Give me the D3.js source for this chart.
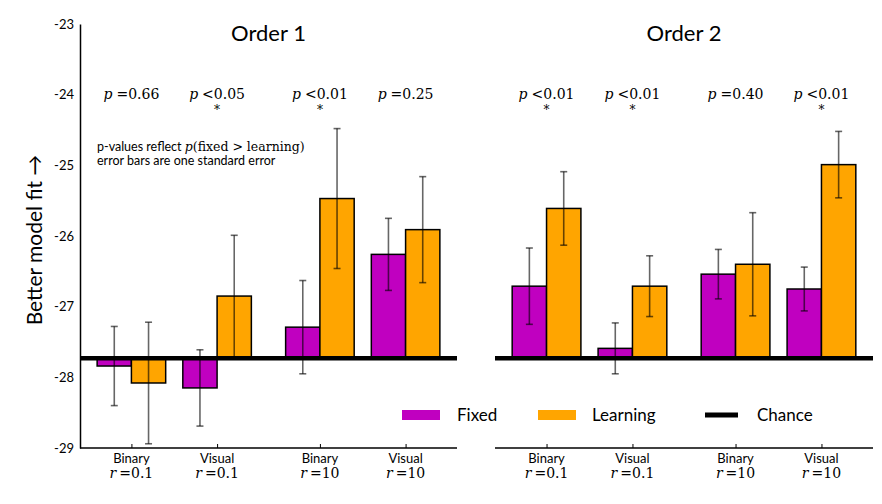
<!DOCTYPE html>
<html>
<head>
<meta charset="utf-8">
<script src="https://cdn.jsdelivr.net/npm/d3@7"></script>
<style>
  body { margin: 0; background: #fff; }
  svg text { fill: #000; }
</style>
</head>
<body>
<div id="chart"></div>
<script>
// data
const conditions = ['Binary', 'Visual', 'Binary', 'Visual']
const rewards = ['0.1', '0.1', '10', '10']
const panelTitles = ['Order 1', 'Order 2']
const chance = -27.73

const fixedOrder1 = [-27.84, -28.15, -27.29, -26.26]
const fixedOrder1Se = [0.56, 0.54, 0.66, 0.51]
const learningOrder1 = [-28.08, -26.85, -25.47, -25.91]
const learningOrder1Se = [0.86, 0.86, 0.99, 0.75]

const fixedOrder2 = [-26.71, -27.59, -26.54, -26.75]
const fixedOrder2Se = [0.54, 0.36, 0.35, 0.31]
const learningOrder2 = [-25.61, -26.71, -26.40, -24.99]
const learningOrder2Se = [0.52, 0.43, 0.73, 0.47]

const pOrder1 = ['=0.66', '<0.05', '<0.01', '=0.25']
const starOrder1 = [false, true, true, false]
const pOrder2 = ['<0.01', '<0.01', '=0.40', '<0.01']
const starOrder2 = [true, true, false, true]

const yTicks = [-23, -24, -25, -26, -27, -28, -29]

const panels = [
  { title: panelTitles[0], fixed: fixedOrder1, fixedSe: fixedOrder1Se, learning: learningOrder1, learningSe: learningOrder1Se, p: pOrder1, star: starOrder1 },
  { title: panelTitles[1], fixed: fixedOrder2, fixedSe: fixedOrder2Se, learning: learningOrder2, learningSe: learningOrder2Se, p: pOrder2, star: starOrder2 }
]

// layout
const W = 882, H = 504
const groupPos = [0, 1, 2.2, 3.2]
const barW = 0.4
const colors = { fixed: '#c000c0', learning: '#ffa500' }
const sans = 'Lato, "Open Sans", sans-serif'
const serif = '"DejaVu Serif", "Liberation Serif", serif'

let svg = d3.select('#chart').append('svg')
  .attr('width', W)
  .attr('height', H)

let y = d3.scaleLinear().domain([-29, -23]).range([448, 24])

let panelX = [[80, 457], [495, 873]]

panels.forEach((p, i) => {
  let x = d3.scaleLinear().domain([-0.6, 3.8]).range(panelX[i])
  let g = svg.append('g')
  let unit = x(1) - x(0)

  // bars
  let rows = []
  groupPos.forEach((pos, k) => {
    rows.push({ key: 'fixed', x0: pos - barW, v: p.fixed[k], se: p.fixedSe[k] })
    rows.push({ key: 'learning', x0: pos, v: p.learning[k], se: p.learningSe[k] })
  })

  g.selectAll('rect.bar')
    .data(rows)
    .join('rect')
    .attr('class', 'bar')
    .attr('x', d => x(d.x0))
    .attr('width', barW * unit)
    .attr('y', d => Math.min(y(d.v), y(chance)))
    .attr('height', d => Math.abs(y(d.v) - y(chance)))
    .attr('fill', d => colors[d.key])
    .attr('stroke', '#000')
    .attr('stroke-width', 1.5)

  // chance line
  g.append('line')
    .attr('x1', panelX[i][0]).attr('x2', panelX[i][1])
    .attr('y1', y(chance)).attr('y2', y(chance))
    .attr('stroke', '#000')
    .attr('stroke-width', 4.5)

  // error bars
  let eb = g.selectAll('g.err')
    .data(rows)
    .join('g')
    .attr('class', 'err')
    .attr('stroke', '#000')
    .attr('stroke-opacity', 0.6)
    .attr('stroke-width', 1.6)
  eb.append('line')
    .attr('x1', d => x(d.x0 + barW / 2)).attr('x2', d => x(d.x0 + barW / 2))
    .attr('y1', d => y(d.v + d.se)).attr('y2', d => y(d.v - d.se))
  eb.append('line')
    .attr('x1', d => x(d.x0 + barW / 2) - 3.5).attr('x2', d => x(d.x0 + barW / 2) + 3.5)
    .attr('y1', d => y(d.v + d.se)).attr('y2', d => y(d.v + d.se))
  eb.append('line')
    .attr('x1', d => x(d.x0 + barW / 2) - 3.5).attr('x2', d => x(d.x0 + barW / 2) + 3.5)
    .attr('y1', d => y(d.v - d.se)).attr('y2', d => y(d.v - d.se))

  // x axis
  let xAxis = d3.axisBottom(x)
    .tickValues(groupPos)
    .tickSize(-4)
    .tickFormat('')
  let ax = g.append('g')
    .attr('transform', 'translate(0,448)')
    .call(xAxis)
  ax.select('.domain').attr('d', `M${panelX[i][0]},0H${panelX[i][1]}`).attr('stroke-width', 1.5)
  ax.selectAll('.tick line').attr('stroke-width', 1)

  let lab = g.selectAll('g.xlab')
    .data(groupPos)
    .join('g')
    .attr('class', 'xlab')
    .attr('transform', d => `translate(${x(d)},0)`)
  lab.append('text')
    .attr('y', 463)
    .attr('text-anchor', 'middle')
    .attr('font-family', sans)
    .attr('font-size', 13)
    .text((d, k) => conditions[k])
  let rt = lab.append('text')
    .attr('y', 478)
    .attr('text-anchor', 'middle')
    .attr('font-family', serif)
    .attr('font-size', 14)
  rt.append('tspan').attr('font-style', 'italic').text('r')
  rt.append('tspan').attr('dx', 3).text((d, k) => '=' + rewards[k])

  // p-values
  let pl = g.selectAll('g.pval')
    .data(groupPos)
    .join('g')
    .attr('class', 'pval')
    .attr('transform', d => `translate(${x(d)},0)`)
  let pt = pl.append('text')
    .attr('y', 99)
    .attr('text-anchor', 'middle')
    .attr('font-family', serif)
    .attr('font-size', 14)
  pt.append('tspan').attr('font-style', 'italic').text('p')
  pt.append('tspan').attr('dx', 4).text((d, k) => p.p[k])
  pl.filter((d, k) => p.star[k])
    .append('text')
    .attr('y', 114)
    .attr('text-anchor', 'middle')
    .attr('font-family', serif)
    .attr('font-size', 12)
    .text('*')

  // title
  g.append('text')
    .attr('x', x(1.6))
    .attr('y', 41)
    .attr('text-anchor', 'middle')
    .attr('font-family', sans)
    .attr('font-size', 22)
    .text(p.title)
})

// y axis on the left panel
let yAxis = d3.axisLeft(y).tickValues(yTicks).tickSize(0).tickPadding(6).tickFormat(d => String(d))
let yg = svg.append('g')
  .attr('transform', 'translate(80,0)')
  .call(yAxis)
yg.select('.domain').attr('stroke-width', 1.5)
yg.selectAll('text')
  .attr('font-family', sans)
  .attr('font-size', 13)
  .attr('fill', '#000')

svg.append('text')
  .attr('transform', 'translate(42,240) rotate(-90)')
  .attr('text-anchor', 'middle')
  .attr('font-family', sans)
  .attr('font-size', 21)
  .text('Better model fit   \u2192')

// note
let note = svg.append('g').attr('font-size', 12.5)
let n1 = note.append('text').attr('x', 97).attr('y', 151)
n1.append('tspan').attr('font-family', sans).text('p-values reflect ')
n1.append('tspan').attr('font-family', serif).attr('font-style', 'italic').text('p')
n1.append('tspan').attr('font-family', serif).text('(fixed  > learning)')
note.append('text').attr('x', 97).attr('y', 165)
  .attr('font-family', sans)
  .text('error bars are one standard error')

// legend
let legend = svg.append('g').attr('font-family', sans).attr('font-size', 17)
legend.append('rect').attr('x', 402).attr('y', 410).attr('width', 38).attr('height', 10).attr('fill', colors.fixed)
legend.append('text').attr('x', 457).attr('y', 421).text('Fixed')
legend.append('rect').attr('x', 538).attr('y', 410).attr('width', 38).attr('height', 10).attr('fill', colors.learning)
legend.append('text').attr('x', 592).attr('y', 421).text('Learning')
legend.append('line').attr('x1', 705).attr('x2', 738).attr('y1', 415).attr('y2', 415).attr('stroke', '#000').attr('stroke-width', 5)
legend.append('text').attr('x', 757).attr('y', 421).text('Chance')
</script>
</body>
</html>
